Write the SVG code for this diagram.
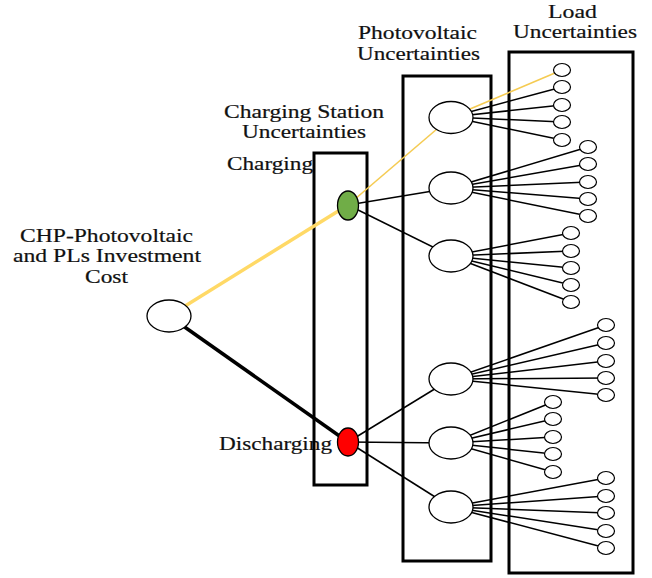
<svg xmlns="http://www.w3.org/2000/svg" width="652" height="578" viewBox="0 0 652 578">
<style>
.t{font-family:"Liberation Serif","Times New Roman",serif;font-size:19px;fill:#111;stroke:#111;stroke-width:0.2;}
.box{fill:none;stroke:#000;stroke-width:3;}
.ln{stroke:#000;stroke-width:1.5;fill:none;}
.yl{stroke:#F5CB52;stroke-width:1.6;fill:none;}
.n{fill:#fff;stroke:#000;stroke-width:1.3;}
.s{fill:#fff;stroke:#000;stroke-width:1.2;}
</style>
<rect width="652" height="578" fill="#fff"/>
<g id="labels">
<text class="t" x="20" y="242" textLength="173" lengthAdjust="spacingAndGlyphs">CHP-Photovoltaic</text>
<text class="t" x="13" y="262" textLength="188" lengthAdjust="spacingAndGlyphs">and PLs Investment</text>
<text class="t" x="85" y="283" textLength="43" lengthAdjust="spacingAndGlyphs">Cost</text>
<text class="t" x="224" y="118" textLength="160" lengthAdjust="spacingAndGlyphs">Charging Station</text>
<text class="t" x="242" y="138" textLength="124" lengthAdjust="spacingAndGlyphs">Uncertainties</text>
<text class="t" x="227" y="170" textLength="86" lengthAdjust="spacingAndGlyphs">Charging</text>
<text class="t" x="219" y="450" textLength="113" lengthAdjust="spacingAndGlyphs">Discharging</text>
<text class="t" x="358" y="39" textLength="119" lengthAdjust="spacingAndGlyphs">Photovoltaic</text>
<text class="t" x="357" y="60" textLength="123" lengthAdjust="spacingAndGlyphs">Uncertainties</text>
<text class="t" x="548" y="18" textLength="49" lengthAdjust="spacingAndGlyphs">Load</text>
<text class="t" x="513" y="38" textLength="124" lengthAdjust="spacingAndGlyphs">Uncertainties</text>
</g>
<g id="boxes">
<rect class="box" x="314" y="153" width="53" height="332"/>
<rect class="box" x="403" y="76" width="88" height="485"/>
<rect class="box" x="509" y="52" width="124" height="521"/>
</g>
<g id="connectors">
<line x1="169" y1="316" x2="348" y2="205" stroke="#FFD966" stroke-width="3.5"/>
<line x1="169" y1="316" x2="348" y2="442" stroke="#000" stroke-width="3.5"/>
<line class="yl" x1="348" y1="205" x2="451" y2="117"/>
<line class="ln" x1="348" y1="205" x2="451" y2="188"/>
<line class="ln" x1="348" y1="205" x2="451" y2="256"/>
<line class="ln" x1="348" y1="442" x2="451" y2="379"/>
<line class="ln" x1="348" y1="442" x2="451" y2="443"/>
<line class="ln" x1="348" y1="442" x2="451" y2="507"/>
<line class="yl" x1="451" y1="117" x2="562" y2="70"/>
<line class="ln" x1="451" y1="117" x2="562" y2="87"/>
<line class="ln" x1="451" y1="117" x2="562" y2="105"/>
<line class="ln" x1="451" y1="117" x2="562" y2="122"/>
<line class="ln" x1="451" y1="117" x2="562" y2="140"/>
<line class="ln" x1="451" y1="188" x2="588" y2="147"/>
<line class="ln" x1="451" y1="188" x2="588" y2="164"/>
<line class="ln" x1="451" y1="188" x2="588" y2="182"/>
<line class="ln" x1="451" y1="188" x2="588" y2="199"/>
<line class="ln" x1="451" y1="188" x2="588" y2="216"/>
<line class="ln" x1="451" y1="256" x2="571" y2="233"/>
<line class="ln" x1="451" y1="256" x2="571" y2="251"/>
<line class="ln" x1="451" y1="256" x2="571" y2="268"/>
<line class="ln" x1="451" y1="256" x2="571" y2="285"/>
<line class="ln" x1="451" y1="256" x2="571" y2="302"/>
<line class="ln" x1="451" y1="379" x2="606" y2="325"/>
<line class="ln" x1="451" y1="379" x2="606" y2="343"/>
<line class="ln" x1="451" y1="379" x2="606" y2="361"/>
<line class="ln" x1="451" y1="379" x2="606" y2="378"/>
<line class="ln" x1="451" y1="379" x2="606" y2="395"/>
<line class="ln" x1="451" y1="443" x2="553" y2="402"/>
<line class="ln" x1="451" y1="443" x2="553" y2="419"/>
<line class="ln" x1="451" y1="443" x2="553" y2="437"/>
<line class="ln" x1="451" y1="443" x2="553" y2="454"/>
<line class="ln" x1="451" y1="443" x2="553" y2="472"/>
<line class="ln" x1="451" y1="507" x2="606" y2="478"/>
<line class="ln" x1="451" y1="507" x2="606" y2="496"/>
<line class="ln" x1="451" y1="507" x2="606" y2="513"/>
<line class="ln" x1="451" y1="507" x2="606" y2="531"/>
<line class="ln" x1="451" y1="507" x2="606" y2="548"/>
</g>
<g id="root"><ellipse class="n" cx="169" cy="316" rx="22" ry="16"/></g>
<g id="charging"><ellipse cx="348" cy="205.5" rx="10.5" ry="14.5" fill="#70AD47" stroke="#000" stroke-width="1.3"/></g>
<g id="discharging"><ellipse cx="348" cy="442" rx="10.5" ry="14" fill="#FF0000" stroke="#000" stroke-width="1.3"/></g>
<g id="pv1"><ellipse class="n" cx="451" cy="117.5" rx="22" ry="16"/></g>
<g id="pv2"><ellipse class="n" cx="451" cy="188" rx="22" ry="16"/></g>
<g id="pv3"><ellipse class="n" cx="451" cy="256" rx="22" ry="16"/></g>
<g id="pv4"><ellipse class="n" cx="451" cy="379" rx="22" ry="16"/></g>
<g id="pv5"><ellipse class="n" cx="451" cy="443" rx="22" ry="16"/></g>
<g id="pv6"><ellipse class="n" cx="451" cy="507" rx="22" ry="16"/></g>
<g id="load1">
<ellipse class="s" cx="562" cy="70" rx="8.5" ry="6.5"/>
<ellipse class="s" cx="562" cy="87" rx="8.5" ry="6.5"/>
<ellipse class="s" cx="562" cy="105" rx="8.5" ry="6.5"/>
<ellipse class="s" cx="562" cy="122" rx="8.5" ry="6.5"/>
<ellipse class="s" cx="562" cy="140" rx="8.5" ry="6.5"/>
</g>
<g id="load2">
<ellipse class="s" cx="588" cy="147" rx="8.5" ry="6.5"/>
<ellipse class="s" cx="588" cy="164" rx="8.5" ry="6.5"/>
<ellipse class="s" cx="588" cy="182" rx="8.5" ry="6.5"/>
<ellipse class="s" cx="588" cy="199" rx="8.5" ry="6.5"/>
<ellipse class="s" cx="588" cy="216" rx="8.5" ry="6.5"/>
</g>
<g id="load3">
<ellipse class="s" cx="571" cy="233" rx="8.5" ry="6.5"/>
<ellipse class="s" cx="571" cy="251" rx="8.5" ry="6.5"/>
<ellipse class="s" cx="571" cy="268" rx="8.5" ry="6.5"/>
<ellipse class="s" cx="571" cy="285" rx="8.5" ry="6.5"/>
<ellipse class="s" cx="571" cy="302" rx="8.5" ry="6.5"/>
</g>
<g id="load4">
<ellipse class="s" cx="606" cy="325" rx="8.5" ry="6.5"/>
<ellipse class="s" cx="606" cy="343" rx="8.5" ry="6.5"/>
<ellipse class="s" cx="606" cy="361" rx="8.5" ry="6.5"/>
<ellipse class="s" cx="606" cy="378" rx="8.5" ry="6.5"/>
<ellipse class="s" cx="606" cy="395" rx="8.5" ry="6.5"/>
</g>
<g id="load5">
<ellipse class="s" cx="553" cy="402" rx="8.5" ry="6.5"/>
<ellipse class="s" cx="553" cy="419" rx="8.5" ry="6.5"/>
<ellipse class="s" cx="553" cy="437" rx="8.5" ry="6.5"/>
<ellipse class="s" cx="553" cy="454" rx="8.5" ry="6.5"/>
<ellipse class="s" cx="553" cy="472" rx="8.5" ry="6.5"/>
</g>
<g id="load6">
<ellipse class="s" cx="606" cy="478" rx="8.5" ry="6.5"/>
<ellipse class="s" cx="606" cy="496" rx="8.5" ry="6.5"/>
<ellipse class="s" cx="606" cy="513" rx="8.5" ry="6.5"/>
<ellipse class="s" cx="606" cy="531" rx="8.5" ry="6.5"/>
<ellipse class="s" cx="606" cy="548" rx="8.5" ry="6.5"/>
</g>
</svg>
